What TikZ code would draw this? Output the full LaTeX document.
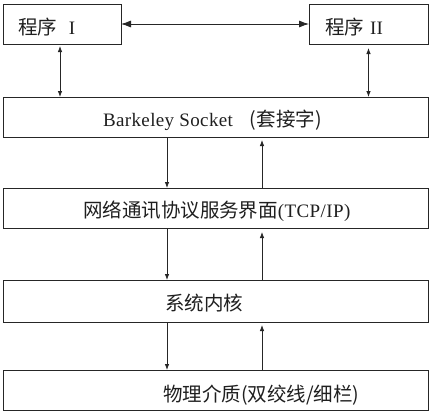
\documentclass[tikz,border=0pt]{standalone}
\usepackage{fontspec}
\setmainfont{Liberation Serif}
\newfontfamily\cjk{Noto Sans CJK SC}
\newfontfamily\latn[LetterSpace=2]{Liberation Serif}
\usetikzlibrary{arrows.meta}
\newcommand{\zh}[1]{{\cjk\fontsize{19.5}{20}\selectfont #1}}
\newcommand{\en}[1]{{\latn\fontsize{19}{20}\selectfont #1}}
\begin{document}
\begin{tikzpicture}[x=1pt,y=-1pt,
  box/.style={draw=black!85,line width=0.8pt,inner sep=0pt,outer sep=0pt,minimum height=40pt},
  lbl/.style={anchor=base west,inner sep=0pt,outer sep=0pt,text=black!88},
  arr/.style={draw=black!85,line width=0.8pt,-{Latex[length=6pt,width=4.5pt]}},
  darr/.style={draw=black!85,line width=0.8pt,{Latex[length=6pt,width=4.5pt]}-{Latex[length=6pt,width=4.5pt]}},
  harr/.style={draw=black!85,line width=0.8pt,{Latex[length=10pt,width=7pt]}-{Latex[length=10pt,width=7pt]}}]
\useasboundingbox (0,0) rectangle (434,413);
\fill[white] (0,0) rectangle (434,413);
% boxes
\node[box,minimum width=118pt] (p1) at (62,24) {};
\node[box,minimum width=119pt] (p2) at (368.5,24) {};
\node[box,minimum width=425pt] (sock) at (215.5,117) {};
\node[box,minimum width=425pt] (tcp) at (215.5,208) {};
\node[box,minimum width=425pt,minimum height=42pt] (kern) at (215.5,301) {};
\node[box,minimum width=425pt] (phys) at (215.5,390) {};
% labels
\node[lbl] (t1) at (18,34) {\zh{程序}\hspace{12pt}\en{I}};
\node[lbl] (t2) at (325,34) {\zh{程序}\hspace{6pt}\en{II}};
\node[lbl] (t3) at (103,126) {\en{Barkeley Socket}\hspace{17pt}\zh{(套接字)}};
\node[lbl] (t4) at (83,217) {\zh{网络通讯协议服务界面}\en{(TCP/IP)}};
\node[lbl] (t5) at (165,310) {\zh{系统内核}};
\node[lbl] (t6) at (163,401) {\zh{物理介质(双绞线/细栏)}};
% connectors
\draw[harr] (p1.east) -- (p2.west);
\draw[darr,shorten <=2pt] ([xshift=-2pt]p1.south) -- ([xshift=-2pt]p1.south |- sock.north);
\draw[darr,shorten <=4pt] (p2.south) -- (p2.south |- sock.north);
\draw[arr] ([xshift=-48.5pt]sock.south) -- ([xshift=-48.5pt]sock.south |- tcp.north);
\draw[arr,shorten >=3pt] ([xshift=46.5pt]tcp.north) -- ([xshift=46.5pt]tcp.north |- sock.south);
\draw[arr] ([xshift=-48.5pt]tcp.south) -- ([xshift=-48.5pt]tcp.south |- kern.north);
\draw[arr,shorten >=4pt] ([xshift=46.5pt]kern.north) -- ([xshift=46.5pt]kern.north |- tcp.south);
\draw[arr] ([xshift=-48.5pt]kern.south) -- ([xshift=-48.5pt]kern.south |- phys.north);
\draw[arr,shorten >=3pt] ([xshift=46.5pt]phys.north) -- ([xshift=46.5pt]phys.north |- kern.south);
\end{tikzpicture}
\end{document}
